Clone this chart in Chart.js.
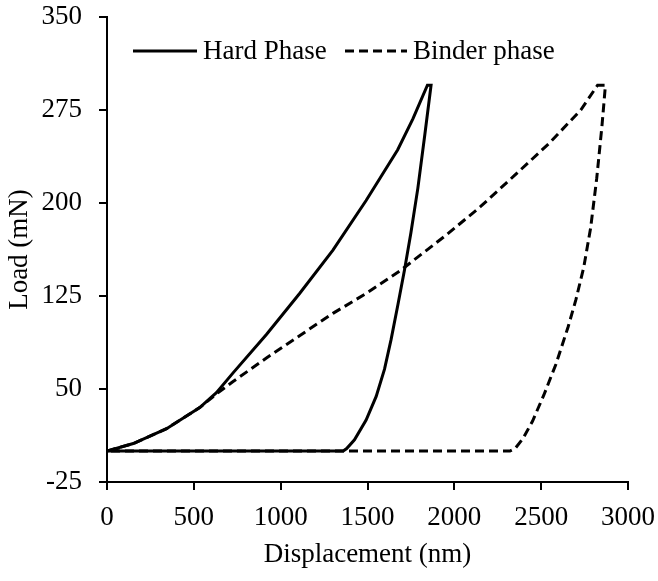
<!DOCTYPE html>
<html><head><meta charset="utf-8">
<script src="https://cdn.jsdelivr.net/npm/chart.js@4/dist/chart.umd.min.js"></script>
<style>html,body{margin:0;padding:0;background:#fff}#wrap{width:658px;height:581px}</style>
</head><body><div id="wrap"><canvas id="c" width="658" height="581"></canvas></div>
<script>
const seriesNames = ['Hard Phase', 'Binder phase'];
const hardX = [0, 151, 343, 534, 630, 726, 918, 1109, 1301, 1492, 1674, 1762, 1845, 1866, 1830, 1790, 1750, 1713, 1675, 1636, 1598, 1550, 1492, 1425, 1380, 1360, 0];
const hardY = [0, 6, 18, 35, 47, 63, 94, 127, 162, 202, 243, 268, 295, 295, 255, 212, 176, 146, 118, 90, 66, 44, 25, 9, 2, 0, 0];
const binderX = [0, 151, 343, 534, 630, 726, 918, 1109, 1301, 1492, 1684, 1952, 2150, 2345, 2545, 2728, 2825, 2870, 2850, 2820, 2785, 2745, 2700, 2655, 2585, 2515, 2450, 2395, 2350, 2320, 0];
const binderY = [0, 6, 18, 35, 46, 56, 75, 93, 111, 127, 145, 174, 197, 222, 248, 275, 295, 295, 262, 220, 180, 148, 122, 100, 70, 45, 24, 10, 2, 0, 0];
const xTickValues = [0, 500, 1000, 1500, 2000, 2500, 3000];
const yTickValues = [-25, 50, 125, 200, 275, 350];
const xTitle = 'Displacement (nm)';
const yTitle = 'Load (mN)';

const FONT = 'Liberation Serif, Times New Roman, serif';
const toPts = (xs, ys) => xs.map((x, i) => ({x, y: ys[i]}));

const legendPlugin = {
  id: 'inlineLegend',
  afterDraw(chart) {
    const ctx = chart.ctx;
    const pos = [{x0: 133, x1: 197, tx: 203}, {x0: 345, x1: 407, tx: 413}];
    const y = 51;
    ctx.save();
    chart.data.datasets.forEach((ds, i) => {
      const p = pos[i];
      ctx.strokeStyle = ds.borderColor;
      ctx.lineWidth = ds.borderWidth;
      ctx.setLineDash(ds.borderDash || []);
      ctx.beginPath();
      ctx.moveTo(p.x0, y);
      ctx.lineTo(p.x1, y);
      ctx.stroke();
      ctx.setLineDash([]);
      ctx.fillStyle = '#000';
      ctx.font = '27px ' + FONT;
      ctx.textBaseline = 'middle';
      ctx.textAlign = 'left';
      ctx.fillText(ds.label, p.tx, y + 1);
    });
    ctx.restore();
  }
};

const axisCommon = {
  type: 'linear',
  grid: {drawOnChartArea: false, drawTicks: true, tickLength: 8, color: '#000', lineWidth: 2},
  border: {display: true, color: '#000', width: 2},
};

new Chart(document.getElementById('c'), {
  type: 'scatter',
  data: {
    datasets: [
      {label: seriesNames[0], data: toPts(hardX, hardY), showLine: true, borderColor: '#000', borderWidth: 3, pointRadius: 0, tension: 0, fill: false},
      {label: seriesNames[1], data: toPts(binderX, binderY), showLine: true, borderColor: '#000', borderWidth: 3, borderDash: [9, 5], pointRadius: 0, tension: 0, fill: false}
    ]
  },
  options: {
    responsive: false,
    animation: false,
    devicePixelRatio: 1,
    layout: {padding: {top: 17, right: 30, left: 0, bottom: 0}},
    plugins: {legend: {display: false}, tooltip: {enabled: false}},
    scales: {
      x: Object.assign({}, axisCommon, {
        min: 0, max: 3000,
        afterBuildTicks(s) { s.ticks = xTickValues.map(v => ({value: v})); },
        ticks: {color: '#000', font: {family: FONT, size: 27}, padding: 12, maxRotation: 0, autoSkip: false, callback: v => String(v)},
        title: {display: true, text: xTitle, color: '#000', font: {family: FONT, size: 27}, padding: {top: 0, bottom: 10}},
        afterFit(s) { s.height = 99; s.paddingLeft = 0; s.paddingRight = 0; }
      }),
      y: Object.assign({}, axisCommon, {
        min: -25, max: 350,
        afterBuildTicks(s) { s.ticks = yTickValues.map(v => ({value: v})); },
        ticks: {color: '#000', font: {family: FONT, size: 27}, padding: 17, autoSkip: false, callback: v => String(v)},
        title: {display: true, text: yTitle, color: '#000', font: {family: FONT, size: 27}, padding: {top: 4, bottom: 0}},
        afterFit(s) { s.width = 107; s.paddingTop = 0; s.paddingBottom = 0; }
      })
    }
  },
  plugins: [legendPlugin]
});
</script>
</body></html>
